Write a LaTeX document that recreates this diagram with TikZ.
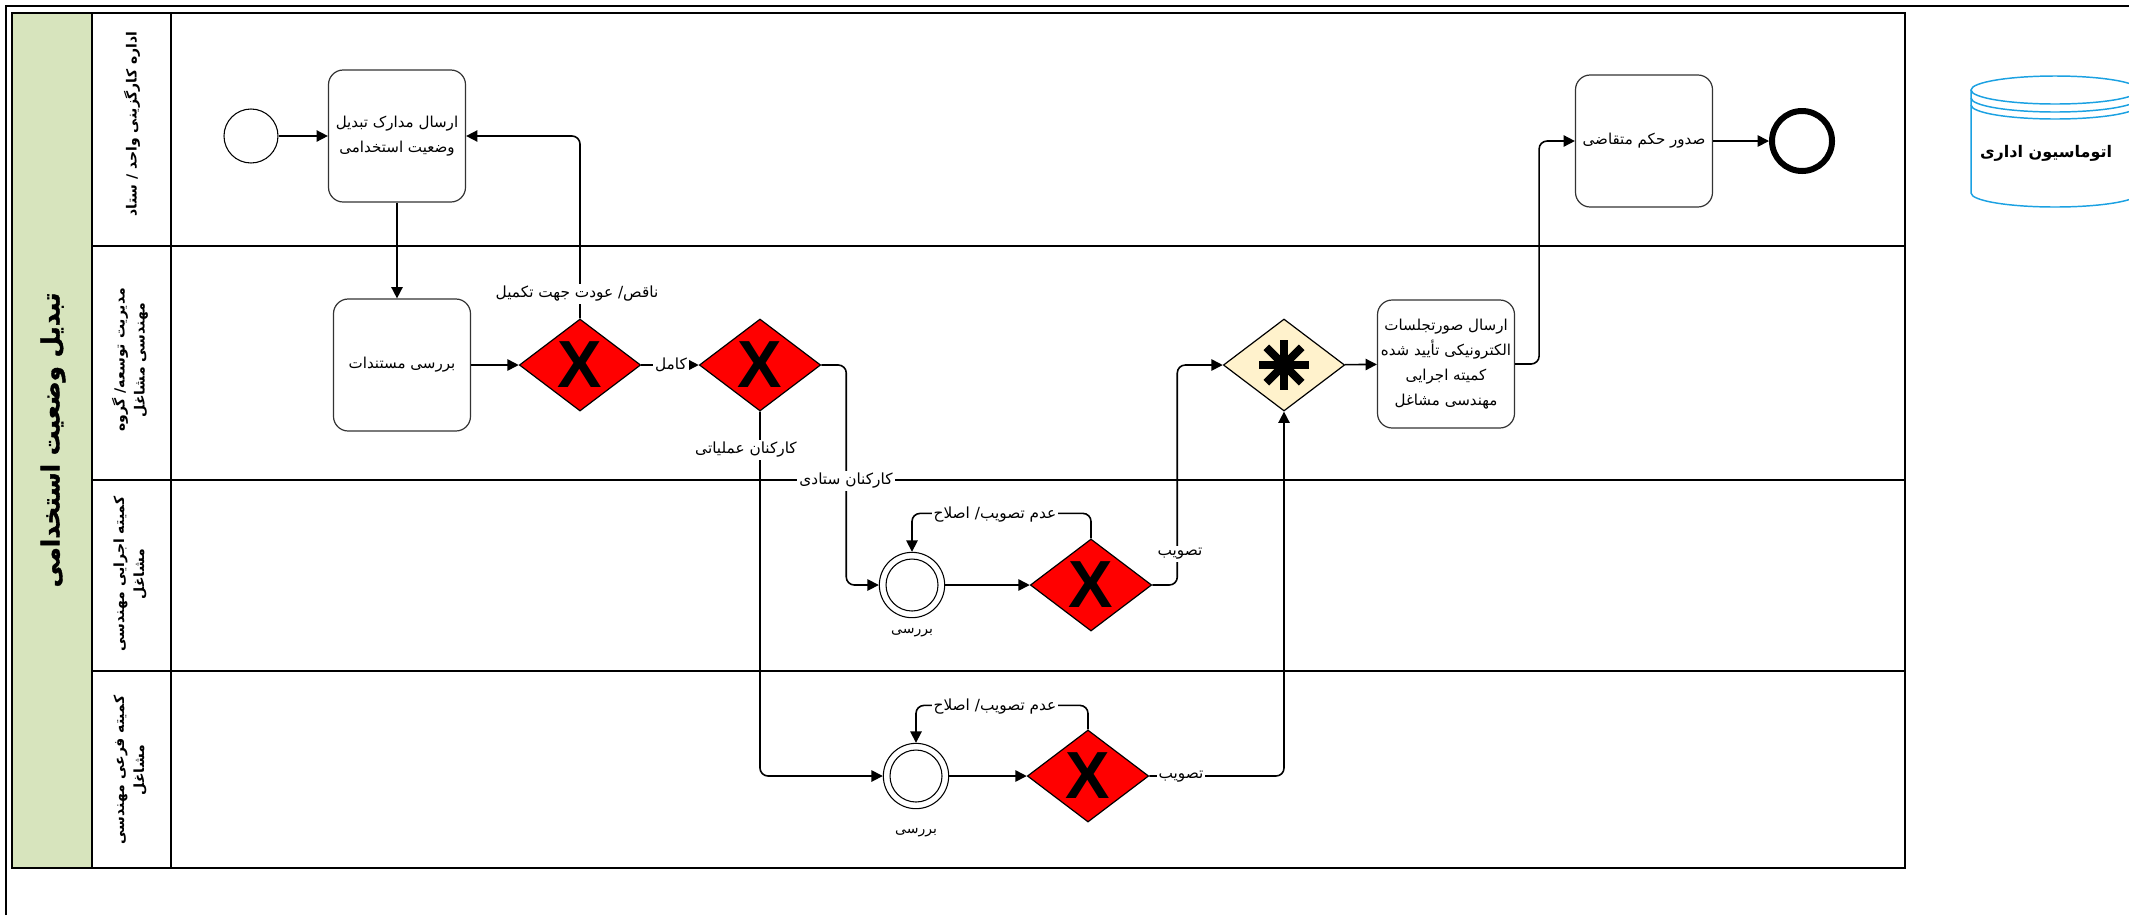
\documentclass[tikz,border=0pt]{standalone}
\usepackage{fontspec}
\setmainfont{DejaVu Sans}
\newfontfamily\arabicfont[Script=Arabic]{DejaVu Sans}
\newfontfamily\heavyfont[Script=Arabic,FakeBold=1.5]{DejaVu Sans Bold}
\newfontfamily\markfont{Liberation Sans}
\TeXXeTstate=1
\usetikzlibrary{shapes.geometric,arrows.meta}
% right-to-left run of Persian text
\newcommand{\fa}[1]{\beginR #1\endR}

\definecolor{gwred}{RGB}{255,0,0}
\definecolor{gwcream}{RGB}{255,242,204}
\definecolor{poolgreen}{RGB}{215,228,189}
\definecolor{dbblue}{RGB}{27,161,226}
\definecolor{boxline}{RGB}{51,51,51}

\tikzset{
  flow/.style={draw=black, line width=1.2pt, rounded corners=6pt,
    -{Triangle[length=8.5pt,width=8.5pt]}},
  task/.style={draw=boxline, line width=0.9pt, rounded corners=11pt, fill=white,
    minimum width=102.75pt, minimum height=99pt, align=center, inner sep=2pt,
    font=\arabicfont\fontsize{11.3}{18.75}\selectfont},
  gateway/.style={diamond, draw=black, line width=0.9pt, fill=gwred,
    minimum width=91pt, minimum height=69pt, inner sep=0pt},
  cgateway/.style={gateway, fill=gwcream},
  xmark/.style={font=\markfont\bfseries\fontsize{50}{50}\selectfont, inner sep=0pt},
  startev/.style={circle, draw=black, line width=0.8pt, fill=white,
    minimum size=40.5pt, inner sep=0pt},
  interev/.style={circle, draw=black, line width=0.8pt, fill=white,
    minimum size=49pt, inner sep=0pt},
  innerring/.style={circle, draw=black, line width=0.8pt,
    minimum size=39pt, inner sep=0pt},
  endev/.style={circle, draw=black, line width=4.5pt, fill=white,
    minimum size=45pt, inner sep=0pt},
  elabel/.style={fill=white, inner sep=1.5pt,
    font=\arabicfont\fontsize{11.5}{14}\selectfont},
  evlabel/.style={inner sep=1pt, font=\arabicfont\fontsize{10.5}{13}\selectfont},
  lanelabel/.style={rotate=90, align=center, inner sep=0pt,
    font=\arabicfont\bfseries\fontsize{10.5}{15}\selectfont},
  lanerule/.style={line width=2pt},
}

\begin{document}
\begin{tikzpicture}[x=0.75pt,y=-0.75pt]
\useasboundingbox (0,0) rectangle (2129,915);

% outer frame
\draw[line width=1.7pt] (6,915) -- (6,6) -- (2129,6);

% pool with title band and lane header column
\fill[poolgreen] (12,13) rectangle (92,868);
\draw[lanerule] (92,13) -- (92,868);
\draw[lanerule] (171,13) -- (171,868);
\foreach \yy in {246,480,671} \draw[lanerule] (92,\yy) -- (1905,\yy);
\draw[line width=2.2pt] (12,13) rectangle (1905,868);

\node[rotate=90, inner sep=0pt, font=\heavyfont\fontsize{18.5}{22}\selectfont]
  (pooltitle) at (53,440) {\fa{تبدیل وضعیت استخدامی}};
\node[lanelabel] (lane1) at (132,124) {\fa{اداره کارگزینی واحد / ستاد}};
\node[lanelabel] (lane2) at (130,360) {\fa{مدیریت توسعه/ گروه}\\\fa{مهندسی مشاغل}};
\node[lanelabel] (lane3) at (130,574) {\fa{کمیته اجرایی مهندسی}\\\fa{مشاغل}};
\node[lanelabel] (lane4) at (130,770) {\fa{کمیته فرعی مهندسی}\\\fa{مشاغل}};

% flow elements
\node[startev] (st) at (251,136) {};
\node[task] (t1) at (397,136) {\fa{ارسال مدارک تبدیل}\\\fa{وضعیت استخدامی}};
\node[task] (t2) at (402,365) {\fa{بررسی مستندات}};
\node[gateway] (g1) at (580,365) {};
\node[xmark] (g1x) at (g1) {X};
\node[gateway] (g2) at (760,365) {};
\node[xmark] (g2x) at (g2) {X};

\node[interev] (ev1) at (912,585) {};
\node[innerring] (ev1in) at (ev1) {};
\node[gateway] (g3) at (1091,585) {};
\node[xmark] (g3x) at (g3) {X};

\node[interev] (ev2) at (916,776) {};
\node[innerring] (ev2in) at (ev2) {};
\node[gateway] (g4) at (1088,776) {};
\node[xmark] (g4x) at (g4) {X};

\node[cgateway] (mg) at (1284,365) {};
\foreach \a in {0,45,90,135}
  \draw[line width=6pt] (mg.center) ++(\a:18.75pt) -- ++(\a+180:37.5pt);

\node[task, minimum height=96pt] (t3) at (1446,364)
  {\fa{ارسال صورتجلسات}\\\fa{الکترونیکی تأیید شده}\\\fa{کمیته اجرایی}\\\fa{مهندسی مشاغل}};
\node[task] (t4) at (1644,141) {\fa{صدور حکم متقاضی}};
\node[endev] (en) at (1802,141) {};

% data store
\begin{scope}[line width=1.1pt]
  \fill[white] (1971,90) -- (1971,193) arc[start angle=180, end angle=360, x radius=63pt, y radius=10.5pt]
    -- (2139,90) -- cycle;
  \draw[dbblue] (1971,90) -- (1971,193) arc[start angle=180, end angle=360, x radius=63pt, y radius=10.5pt]
    -- (2139,90);
  \draw[dbblue, fill=white] (2055,90) ellipse [x radius=63pt, y radius=10.5pt];
  \draw[dbblue] (1971,98) arc[start angle=180, end angle=360, x radius=63pt, y radius=10.5pt];
  \draw[dbblue] (1971,105) arc[start angle=180, end angle=360, x radius=63pt, y radius=10.5pt];
\end{scope}
\node[inner sep=0pt, font=\arabicfont\bfseries\fontsize{12}{14}\selectfont] (db) at (2046,153) {\fa{اتوماسیون اداری}};

% sequence flows
\draw[flow] (st) -- (t1);
\draw[flow] (t1.south) -- (t1.south |- t2.north);
\draw[flow] (t2) -- (g1);
\draw[flow] (g1.north) |- (t1.east);
\draw[flow] (g1) -- (g2);
\draw[flow] (g2.east) -- ++(25,0) |- (ev1.west);
\draw[flow] (g2.south) |- (ev2.west);
\draw[flow] (ev1) -- (g3);
\draw[flow] (g3.north) -- ++(0,-25) -| (ev1.north);
\draw[flow] (g3.east) -- ++(25,0) |- (mg.west);
\draw[flow] (ev2) -- (g4);
\draw[flow] (g4.north) -- ++(0,-24) -| (ev2.north);
\draw[flow] (g4.east) -| (mg.south);
\draw[flow] (mg) -- (t3);
\draw[flow] (t3.east) -- ++(24,0) |- (t4.west);
\draw[flow] (t4) -- (en);

% flow labels
\node[elabel] (lb1) at (577,294) {\fa{ناقص/ عودت جهت تکمیل}};
\node[elabel] (lb2) at (671,365) {\fa{کامل}};
\node[elabel] (lb3) at (746,450) {\fa{کارکنان عملیاتی}};
\node[elabel] (lb4) at (846,481) {\fa{کارکنان ستادی}};
\node[elabel] (lb5) at (995,515) {\fa{عدم تصویب/ اصلاح}};
\node[elabel] (lb6) at (995,707) {\fa{عدم تصویب/ اصلاح}};
\node[elabel] (lb7) at (1180,554) {\fa{تصویب}};
\node[elabel] (lb8) at (1181,777) {\fa{تصویب}};
\node[evlabel] (lb9) at (912,633) {\fa{بررسی}};
\node[evlabel] (lb10) at (916,833) {\fa{بررسی}};
\end{tikzpicture}
\end{document}
